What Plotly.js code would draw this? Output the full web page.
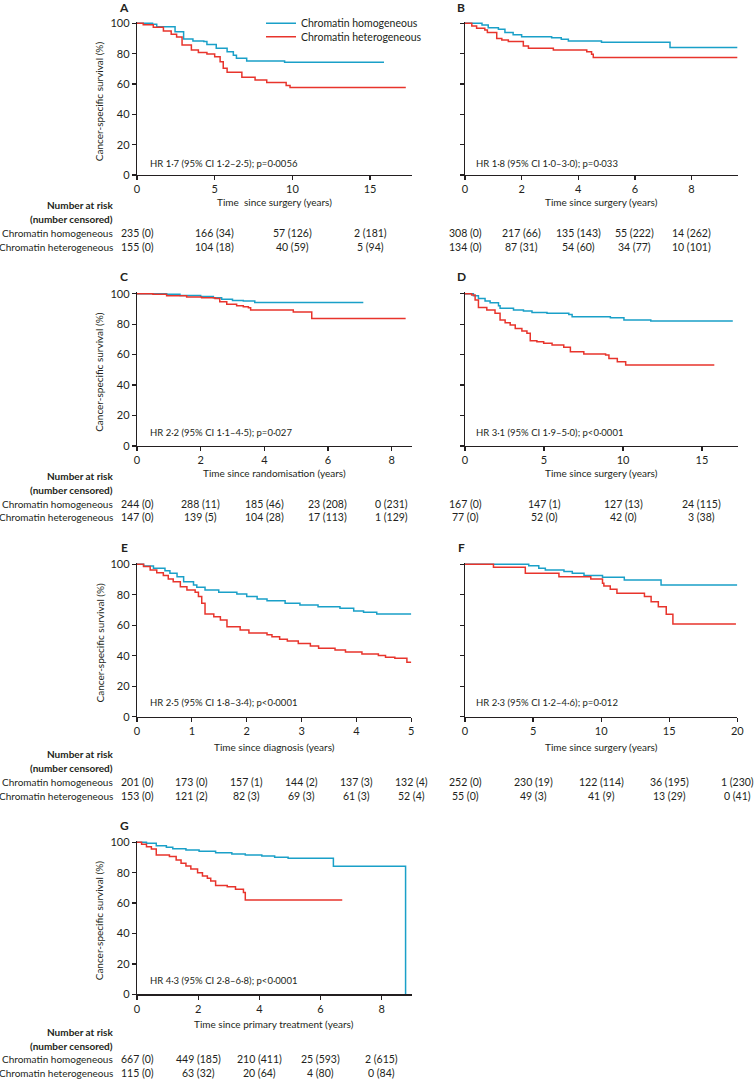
<!DOCTYPE html>
<html><head><meta charset="utf-8">
<script src="https://cdn.plot.ly/plotly-3.0.1.min.js"></script>
<style>html,body{margin:0;padding:0;background:#fff}#chart{width:755px;height:1079px}</style>
</head><body><div id="chart"></div>
<script>
const seriesNames = ['Chromatin homogeneous', 'Chromatin heterogeneous'];
const yTickVals = [0, 20, 40, 60, 80, 100];
const yTitle = 'Cancer-specific survival (%)';
const riskHeader = ['Number at risk', '(number censored)'];

// Panel A
const aHomTime = [0, 1.0, 1.27, 2.45, 3.0, 3.6, 4.3, 4.5, 5.1, 5.8, 6.2, 6.4, 7.06, 9.5, 15.9];
const aHomSurv = [100, 99.3, 97.8, 94.5, 89.7, 88.4, 88, 86, 83.5, 81.3, 79, 77, 75.2, 74.3, 74.3];
const aHetTime = [0, 0.4, 1.05, 1.7, 2.2, 2.55, 2.9, 3.5, 3.95, 4.5, 5.0, 5.35, 5.55, 5.8, 6.75, 7.6, 8.35, 9.6, 9.85, 17.3];
const aHetSurv = [100, 99, 97.4, 95, 92.7, 91, 85.7, 82.4, 80.7, 79.8, 78, 74.7, 70.3, 67.7, 64.4, 62.6, 61, 59, 57.6, 57.6];
const aRiskTimes = [0, 5, 10, 15];
const aRiskHom = ['235 (0)', '166 (34)', '57 (126)', '2 (181)'];
const aRiskHet = ['155 (0)', '104 (18)', '40 (59)', '5 (94)'];
const aHR = 'HR 1·7 (95% CI 1·2–2·5); p=0·0056';
const aXTitle = 'Time  since surgery (years)';

// Panel B
const bHomTime = [0, 0.6, 0.82, 1.18, 1.41, 1.7, 2.0, 3.06, 3.4, 3.65, 4.82, 7.24, 9.62];
const bHomSurv = [100, 98.9, 97.1, 96, 94, 92.5, 91.2, 90.5, 89.5, 88.4, 87.5, 84, 84];
const bHetTime = [0, 0.24, 0.41, 0.7, 0.79, 1.12, 1.3, 1.53, 2.06, 2.24, 3.12, 4.3, 4.47, 4.53, 9.62];
const bHetSurv = [100, 98.2, 96.7, 95.6, 94, 90, 89, 88, 85, 83.5, 82.4, 81.3, 79.6, 77.4, 77.4];
const bRiskTimes = [0, 2, 4, 6, 8];
const bRiskHom = ['308 (0)', '217 (66)', '135 (143)', '55 (222)', '14 (262)'];
const bRiskHet = ['134 (0)', '87 (31)', '54 (60)', '34 (77)', '10 (101)'];
const bHR = 'HR 1·8 (95% CI 1·0–3·0); p=0·033';
const bXTitle = 'Time since surgery (years)';

// Panel C
const cHomTime = [0, 0.93, 1.35, 2.0, 2.4, 2.66, 3.0, 3.34, 3.7, 7.11];
const cHomSurv = [100, 99.6, 98.9, 98.2, 97.4, 96.3, 95.6, 95.2, 94.3, 94.3];
const cHetTime = [0, 0.5, 0.93, 1.56, 2.03, 2.45, 2.6, 2.82, 3.13, 3.34, 3.5, 3.57, 4.91, 5.49, 8.44];
const cHetSurv = [100, 99.6, 98.7, 97.8, 97.4, 96.9, 94.7, 93, 92.1, 91.5, 90.8, 89.3, 88, 83.8, 83.8];
const cRiskTimes = [0, 2, 4, 6, 8];
const cRiskHom = ['244 (0)', '288 (11)', '185 (46)', '23 (208)', '0 (231)'];
const cRiskHet = ['147 (0)', '139 (5)', '104 (28)', '17 (113)', '1 (129)'];
const cHR = 'HR 2·2 (95% CI 1·1–4·5); p=0·027';
const cXTitle = 'Time since randomisation (years)';

// Panel D
const dHomTime = [0, 0.53, 0.85, 1.27, 1.59, 2.12, 2.22, 3.07, 3.7, 4.24, 5.19, 6.57, 6.78, 9.2, 10.06, 11.76, 16.95];
const dHomSurv = [100, 98.7, 96.9, 95.2, 94, 92.1, 90.4, 89.3, 88.6, 87.7, 87.1, 86.4, 84.9, 84.2, 82.7, 82, 82];
const dHetTime = [0, 0.42, 0.64, 0.85, 1.38, 1.9, 2.22, 2.54, 2.86, 3.18, 3.6, 3.92, 4.13, 4.55, 4.98, 5.51, 6.25, 6.67, 7.52, 8.9, 9.11, 9.64, 10.17, 15.78];
const dHetSurv = [100, 99.1, 95.8, 91, 89.3, 87.1, 82.7, 81, 79.4, 77.2, 75.5, 74, 69.1, 68.5, 67.4, 66.3, 64.8, 61.9, 60.4, 59.7, 57.5, 55.4, 53.2, 53.2];
const dRiskTimes = [0, 5, 10, 15];
const dRiskHom = ['167 (0)', '147 (1)', '127 (13)', '24 (115)'];
const dRiskHet = ['77 (0)', '52 (0)', '42 (0)', '3 (38)'];
const dHR = 'HR 3·1 (95% CI 1·9–5·0); p<0·0001';
const dXTitle = 'Time since surgery (years)';

// Panel E
const eHomTime = [0, 0.12, 0.3, 0.51, 0.6, 0.73, 0.85, 1.03, 1.09, 1.24, 1.49, 1.82, 2.0, 2.19, 2.37, 2.7, 2.97, 3.3, 3.7, 3.95, 4.13, 4.37, 5.0];
const eHomSurv = [100, 98.9, 97.4, 95.8, 94.1, 91.9, 88.6, 86.4, 84.9, 83.2, 81.6, 80.5, 78.8, 77.2, 76.1, 74.4, 73.3, 72.2, 71.2, 69.4, 68.5, 67.4, 67.4];
const eHetTime = [0, 0.12, 0.24, 0.36, 0.48, 0.57, 0.66, 0.79, 0.91, 1.06, 1.12, 1.18, 1.24, 1.4, 1.52, 1.64, 1.88, 2.04, 2.37, 2.46, 2.6, 2.74, 2.94, 3.16, 3.31, 3.61, 3.8, 4.1, 4.4, 4.53, 4.7, 4.92, 5.0];
const eHetSurv = [100, 98.5, 96.3, 94.5, 92.6, 90.4, 88.6, 85.3, 83.2, 81.6, 78.8, 74.4, 67.4, 65.6, 63.5, 59.1, 56.9, 55, 53.8, 52.5, 50.8, 49.7, 48, 46.4, 44.9, 43.8, 42.5, 41.2, 40.1, 39, 38.3, 35.7, 35.7];
const eRiskTimes = [0, 1, 2, 3, 4, 5];
const eRiskHom = ['201 (0)', '173 (0)', '157 (1)', '144 (2)', '137 (3)', '132 (4)'];
const eRiskHet = ['153 (0)', '121 (2)', '82 (3)', '69 (3)', '61 (3)', '52 (4)'];
const eHR = 'HR 2·5 (95% CI 1·8–3·4); p<0·0001';
const eXTitle = 'Time since diagnosis (years)';

// Panel F
const fHomTime = [0, 4.68, 5.42, 5.9, 7.27, 7.88, 8.74, 10.1, 11.7, 14.4, 20];
const fHomSurv = [100, 99.1, 97.4, 96.3, 95.2, 94.1, 92.6, 91.5, 89.7, 86.4, 86.4];
const fHetTime = [0, 2.09, 4.43, 6.9, 9.24, 10.1, 10.2, 10.67, 11.16, 13.18, 13.67, 14.2, 14.78, 15.27, 19.9];
const fHetSurv = [100, 98, 94.1, 91.9, 90.4, 87.5, 85.8, 83.6, 81, 78.8, 75.5, 72.2, 67.2, 60.8, 60.8];
const fRiskTimes = [0, 5, 10, 15, 20];
const fRiskHom = ['252 (0)', '230 (19)', '122 (114)', '36 (195)', '1 (230)'];
const fRiskHet = ['55 (0)', '49 (3)', '41 (9)', '13 (29)', '0 (41)'];
const fHR = 'HR 2·3 (95% CI 1·2–4·6); p=0·012';
const fXTitle = 'Time since surgery (years)';

// Panel G
const gHomTime = [0, 0.31, 0.63, 0.96, 1.17, 1.6, 2.03, 2.57, 3.1, 3.54, 4.08, 4.5, 4.94, 6.42, 8.78, 8.78];
const gHomSurv = [100, 99.3, 97.8, 96.7, 95.8, 95, 94.1, 93.2, 92.3, 91.7, 91, 90.1, 89.5, 84.2, 84.2, 0];
const gHetTime = [0, 0.15, 0.31, 0.47, 0.63, 1.06, 1.28, 1.44, 1.6, 1.76, 1.98, 2.14, 2.3, 2.41, 2.57, 2.95, 3.22, 3.48, 3.54, 6.71];
const gHetSurv = [100, 98.7, 97.1, 95.6, 91.7, 90.6, 88.4, 86.2, 84.4, 82.5, 80, 77.9, 76.3, 74.6, 71.5, 70.8, 69.1, 66.9, 62, 62];
const gRiskTimes = [0, 2, 4, 6, 8];
const gRiskHom = ['667 (0)', '449 (185)', '210 (411)', '25 (593)', '2 (615)'];
const gRiskHet = ['115 (0)', '63 (32)', '20 (64)', '4 (80)', '0 (84)'];
const gHR = 'HR 4·3 (95% CI 2·8–6·8); p<0·0001';
const gXTitle = 'Time since primary treatment (years)';

// ---- layout geometry (pixels) ----
const W = 755, H = 1079;
const px = v => v / W;
const py = v => 1 - v / H;
const BLUE = '#1aa0c8', RED = '#e8342c', INK = '#231f20';
const FONT = 'Lato, "Open Sans", sans-serif';
const TBL = 10;

const rows = [
  {top: 23.3, bot: 175, letter: 8, xt: 202, risk: [205, 219, 233, 247], hr: 163},
  {top: 293.7, bot: 446, letter: 276, xt: 473.3, risk: [476, 490, 504, 517.5], hr: 432.7},
  {top: 564.3, bot: 716.7, letter: 547, xt: 746.7, risk: [754, 767.5, 782, 795.5], hr: 702.7},
  {top: 842.3, bot: 994.3, letter: 825.5, xt: 1024.3, risk: [1031.7, 1045.7, 1059, 1072.7], hr: 980.7}
];
const cols = [{x0: 137, letterX: 124.5, hrX: 147.7}, {x0: 465, letterX: 461, hrX: 474}];

const panels = [
  {L: 'A', r: 0, c: 0, x1: 412, xmax: 17.7, dtick: 5, ht: aHomTime, hs: aHomSurv, et: aHetTime, es: aHetSurv, rt: aRiskTimes, rh: aRiskHom, re: aRiskHet, hr: aHR, xt: aXTitle},
  {L: 'B', r: 0, c: 1, x1: 737.7, xmax: 9.63, dtick: 2, ht: bHomTime, hs: bHomSurv, et: bHetTime, es: bHetSurv, rt: bRiskTimes, rh: bRiskHom, re: bRiskHet, hr: bHR, xt: bXTitle},
  {L: 'C', r: 1, c: 0, x1: 411.7, xmax: 8.63, dtick: 2, ht: cHomTime, hs: cHomSurv, et: cHetTime, es: cHetSurv, rt: cRiskTimes, rh: cRiskHom, re: cRiskHet, hr: cHR, xt: cXTitle},
  {L: 'D', r: 1, c: 1, x1: 737.7, xmax: 17.26, dtick: 5, ht: dHomTime, hs: dHomSurv, et: dHetTime, es: dHetSurv, rt: dRiskTimes, rh: dRiskHom, re: dRiskHet, hr: dHR, xt: dXTitle},
  {L: 'E', r: 2, c: 0, x1: 411.3, xmax: 5, dtick: 1, ht: eHomTime, hs: eHomSurv, et: eHetTime, es: eHetSurv, rt: eRiskTimes, rh: eRiskHom, re: eRiskHet, hr: eHR, xt: eXTitle},
  {L: 'F', r: 2, c: 1, x1: 737.3, xmax: 20, dtick: 5, ht: fHomTime, hs: fHomSurv, et: fHetTime, es: fHetSurv, rt: fRiskTimes, rh: fRiskHom, re: fRiskHet, hr: fHR, xt: fXTitle},
  {L: 'G', r: 3, c: 0, x1: 411.7, xmax: 8.98, dtick: 2, ht: gHomTime, hs: gHomSurv, et: gHetTime, es: gHetSurv, rt: gRiskTimes, rh: gRiskHom, re: gRiskHet, hr: gHR, xt: gXTitle}
];

const data = [];
const layout = {
  width: W, height: H,
  margin: {l: 0, r: 0, t: 0, b: 0},
  paper_bgcolor: '#fff', plot_bgcolor: 'rgba(0,0,0,0)',
  font: {family: FONT, size: 10, color: INK},
  showlegend: true,
  legend: {x: px(261), y: py(23.3), xanchor: 'left', yanchor: 'middle', bgcolor: 'rgba(0,0,0,0)', borderwidth: 0, font: {size: 10.5, color: INK}, itemwidth: 30, tracegroupgap: 0},
  legend2: {x: px(261), y: py(36.7), xanchor: 'left', yanchor: 'middle', bgcolor: 'rgba(0,0,0,0)', borderwidth: 0, font: {size: 10.5, color: INK}, itemwidth: 30, tracegroupgap: 0},
  annotations: [],
  hovermode: false
};

panels.forEach((p, i) => {
  const n = i + 1;
  const xa = 'x' + (n === 1 ? '' : n), ya = 'y' + (n === 1 ? '' : n);
  const xk = 'xaxis' + (n === 1 ? '' : n), yk = 'yaxis' + (n === 1 ? '' : n);
  const row = rows[p.r], col = cols[p.c];
  const hgt = row.bot - row.top;
  const topExt = row.bot - hgt * 1.01;
  const left = p.c === 0;

  data.push({
    x: p.ht, y: p.hs, xaxis: xa, yaxis: ya, type: 'scatter', mode: 'lines',
    line: {shape: 'hv', color: BLUE, width: 1.5}, name: seriesNames[0],
    showlegend: n === 1, legend: 'legend', hoverinfo: 'skip'
  });
  data.push({
    x: p.et, y: p.es, xaxis: xa, yaxis: ya, type: 'scatter', mode: 'lines',
    line: {shape: 'hv', color: RED, width: 1.5}, name: seriesNames[1],
    showlegend: n === 1, legend: 'legend2', hoverinfo: 'skip'
  });

  layout[xk] = {
    domain: [px(col.x0), px(p.x1)], range: [0, p.xmax], anchor: ya,
    showline: true, linecolor: INK, linewidth: 1.2, mirror: false,
    ticks: 'outside', ticklen: 4, tickwidth: 1.2, tickcolor: INK,
    tick0: 0, dtick: p.dtick, showgrid: false, zeroline: false,
    tickfont: {size: 11, color: INK, family: FONT}, fixedrange: true
  };
  layout[yk] = {
    domain: [py(row.bot), py(topExt)], range: [0, 101], anchor: xa,
    showline: true, linecolor: INK, linewidth: 1.2,
    ticks: 'outside', ticklen: 4, tickwidth: 1.2, tickcolor: INK,
    tickmode: 'array', tickvals: yTickVals, showticklabels: left,
    showgrid: false, zeroline: false,
    tickfont: {size: 11, color: INK, family: FONT}, fixedrange: true
  };

  const A = layout.annotations;
  A.push({text: '<b>' + p.L + '</b>', xref: 'paper', yref: 'paper', x: px(col.letterX), y: py(row.letter), xanchor: 'center', yanchor: 'middle', showarrow: false, font: {size: 12, color: INK}});
  A.push({text: p.hr, xref: 'paper', yref: 'paper', x: px(col.hrX), y: py(row.hr), xanchor: 'left', yanchor: 'middle', showarrow: false, font: {size: 9.5, color: INK}});
  A.push({text: p.xt, xref: xa + ' domain', yref: 'paper', x: 0.5, y: py(row.xt), xanchor: 'center', yanchor: 'middle', showarrow: false, font: {size: 10, color: INK}});
  if (left) {
    A.push({text: yTitle, textangle: -90, xref: 'paper', yref: 'paper', x: px(99), y: py((row.top + row.bot) / 2 + 2), xanchor: 'center', yanchor: 'middle', showarrow: false, font: {size: 10, color: INK}});
    A.push({text: '<b>' + riskHeader[0] + '</b>', xref: 'paper', yref: 'paper', x: px(115), y: py(row.risk[0]), xanchor: 'right', yanchor: 'middle', showarrow: false, font: {size: TBL, color: INK}});
    A.push({text: '<b>' + riskHeader[1] + '</b>', xref: 'paper', yref: 'paper', x: px(115), y: py(row.risk[1]), xanchor: 'right', yanchor: 'middle', showarrow: false, font: {size: TBL, color: INK}});
    A.push({text: seriesNames[0], xref: 'paper', yref: 'paper', x: px(115), y: py(row.risk[2]), xanchor: 'right', yanchor: 'middle', showarrow: false, font: {size: TBL, color: INK}});
    A.push({text: seriesNames[1], xref: 'paper', yref: 'paper', x: px(115), y: py(row.risk[3]), xanchor: 'right', yanchor: 'middle', showarrow: false, font: {size: TBL, color: INK}});
  }
  p.rt.forEach((t, k) => {
    A.push({text: p.rh[k], xref: xa, yref: 'paper', x: t, y: py(row.risk[2]), xanchor: 'center', yanchor: 'middle', showarrow: false, font: {size: 10.5, color: INK}});
    A.push({text: p.re[k], xref: xa, yref: 'paper', x: t, y: py(row.risk[3]), xanchor: 'center', yanchor: 'middle', showarrow: false, font: {size: 10.5, color: INK}});
  });
});

Plotly.newPlot('chart', data, layout, {staticPlot: true, displayModeBar: false});
</script>
</body></html>
